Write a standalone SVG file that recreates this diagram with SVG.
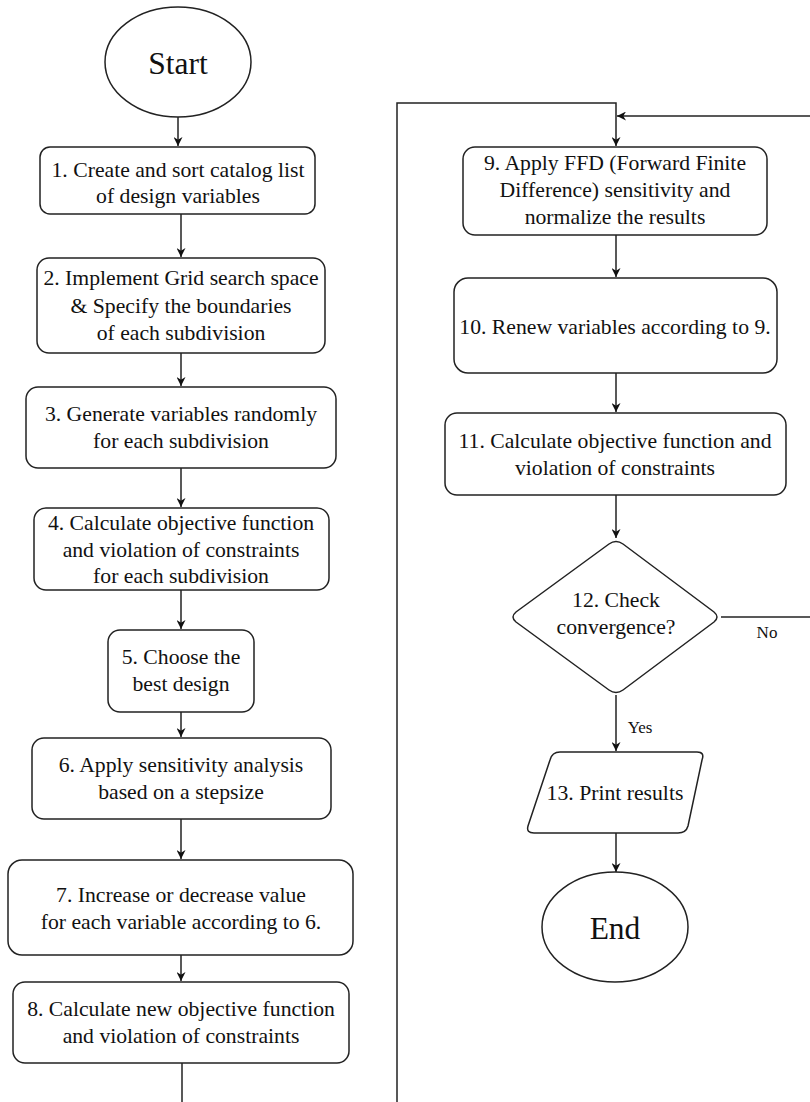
<svg xmlns="http://www.w3.org/2000/svg" width="810" height="1102" viewBox="0 0 810 1102">
<style>
.n{fill:#fff;stroke:#222;stroke-width:1.5}
text{font-family:'Liberation Serif','Times New Roman','DejaVu Serif',serif;font-size:21.7px;fill:#111;text-anchor:middle}
.big{font-size:31.5px}
.lbl{font-size:17px}
.c{fill:none;stroke:#222;stroke-width:1.5}
</style>
<defs>
<marker id="ah" viewBox="0 0 10 10" refX="10" refY="5" markerWidth="9" markerHeight="9" markerUnits="userSpaceOnUse" orient="auto">
<path d="M0,0 L10,5 L0,10 L3,5 Z" fill="#111"/>
</marker>
</defs>
<rect width="810" height="1102" fill="#fff"/>
<g id="connectors">
<line class="c" x1="178" y1="117" x2="178" y2="146" marker-end="url(#ah)"/>
<line class="c" x1="181" y1="214" x2="181" y2="257" marker-end="url(#ah)"/>
<line class="c" x1="181" y1="353" x2="181" y2="386" marker-end="url(#ah)"/>
<line class="c" x1="181" y1="468" x2="181" y2="507" marker-end="url(#ah)"/>
<line class="c" x1="181" y1="590" x2="181" y2="629" marker-end="url(#ah)"/>
<line class="c" x1="181" y1="712" x2="181" y2="737" marker-end="url(#ah)"/>
<line class="c" x1="181" y1="819" x2="181" y2="859" marker-end="url(#ah)"/>
<line class="c" x1="181" y1="955" x2="181" y2="981" marker-end="url(#ah)"/>
<line class="c" x1="182" y1="1063" x2="182" y2="1102"/>
<polyline class="c" points="397,1102 397,103 616,103 616,146" marker-end="url(#ah)"/>
<line class="c" x1="810" y1="116" x2="617" y2="116" marker-end="url(#ah)"/>
<line class="c" x1="616" y1="235" x2="616" y2="277" marker-end="url(#ah)"/>
<line class="c" x1="616" y1="373" x2="616" y2="412" marker-end="url(#ah)"/>
<line class="c" x1="616" y1="495" x2="616" y2="538" marker-end="url(#ah)"/>
<line class="c" x1="721" y1="617" x2="810" y2="617"/>
<text class="lbl" x="767" y="638">No</text>
<line class="c" x1="616" y1="695" x2="616" y2="751" marker-end="url(#ah)"/>
<text class="lbl" x="640" y="733">Yes</text>
<line class="c" x1="616" y1="833" x2="616" y2="872" marker-end="url(#ah)"/>
</g>
<g id="start">
<ellipse class="n" cx="178" cy="62" rx="73" ry="55"/>
<text class="big" x="178" y="74">Start</text>
</g>
<g id="n1">
<rect class="n" x="40" y="147" width="275" height="67" rx="10"/>
<text x="178" y="177">1. Create and sort catalog list</text>
<text x="178" y="203">of design variables</text>
</g>
<g id="n2">
<rect class="n" x="37" y="258" width="288" height="95" rx="12"/>
<text x="181" y="285">2. Implement Grid search space</text>
<text x="181" y="313">&amp; Specify the boundaries</text>
<text x="181" y="340">of each subdivision</text>
</g>
<g id="n3">
<rect class="n" x="26" y="387" width="310" height="81" rx="12"/>
<text x="181" y="421">3. Generate variables randomly</text>
<text x="181" y="448">for each subdivision</text>
</g>
<g id="n4">
<rect class="n" x="34" y="508" width="295" height="82" rx="12"/>
<text x="181" y="530">4. Calculate objective function</text>
<text x="181" y="557">and violation of constraints</text>
<text x="181" y="583">for each subdivision</text>
</g>
<g id="n5">
<rect class="n" x="108" y="630" width="146" height="82" rx="12"/>
<text x="181" y="664">5. Choose the</text>
<text x="181" y="691">best design</text>
</g>
<g id="n6">
<rect class="n" x="32" y="738" width="299" height="81" rx="12"/>
<text x="181" y="772">6. Apply sensitivity analysis</text>
<text x="181" y="799">based on a stepsize</text>
</g>
<g id="n7">
<rect class="n" x="8" y="860" width="345" height="95" rx="14"/>
<text x="181" y="902">7. Increase or decrease value</text>
<text x="181" y="929">for each variable according to 6.</text>
</g>
<g id="n8">
<rect class="n" x="13" y="982" width="336" height="81" rx="12"/>
<text x="181" y="1016">8. Calculate new objective function</text>
<text x="181" y="1043">and violation of constraints</text>
</g>
<g id="n9">
<rect class="n" x="463" y="147" width="304" height="88" rx="12"/>
<text x="615" y="170">9. Apply FFD (Forward Finite</text>
<text x="615" y="197">Difference) sensitivity and</text>
<text x="615" y="224">normalize the results</text>
</g>
<g id="n10">
<rect class="n" x="454" y="278" width="323" height="95" rx="14"/>
<text x="615" y="334">10. Renew variables according to 9.</text>
</g>
<g id="n11">
<rect class="n" x="445" y="413" width="341" height="82" rx="12"/>
<text x="615" y="448">11. Calculate objective function and</text>
<text x="615" y="475">violation of constraints</text>
</g>
<g id="n12">
<path class="n" d="M609,544 Q616,539 623,544 L714,612 Q720,617 714,622 L623,690 Q616,695 609,690 L516,622 Q510,617 516,612 Z"/>
<text x="616" y="607">12. Check</text>
<text x="616" y="634">convergence?</text>
</g>
<g id="n13">
<path class="n" d="M560,752 L697,752 Q705,752 702,760 L688,826 Q686,833 678,833 L534,833 Q526,833 528,826 L550,760 Q552,752 560,752 Z"/>
<text x="615" y="800">13. Print results</text>
</g>
<g id="end">
<ellipse class="n" cx="615" cy="927" rx="73" ry="55"/>
<text class="big" x="615" y="939">End</text>
</g>
</svg>
